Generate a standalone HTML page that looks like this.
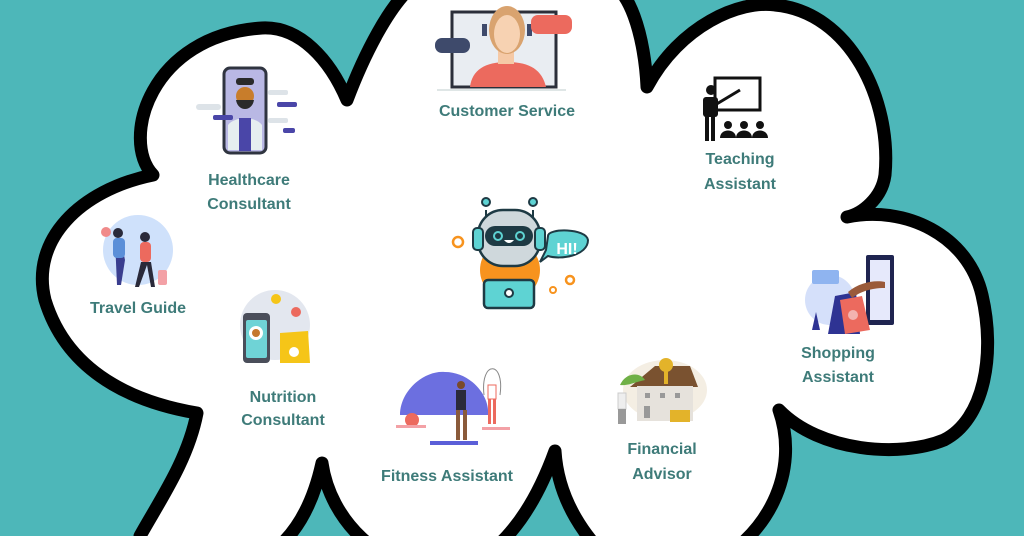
<!DOCTYPE html>
<html><head><meta charset="utf-8"><style>
html,body{margin:0;padding:0;width:1024px;height:536px;overflow:hidden;}
body{background:#4db7b9;}
svg{display:block}
text{font-family:"Liberation Sans",sans-serif;font-weight:bold;fill:#3e7b79;font-size:16px;text-anchor:middle;letter-spacing:0px}
</style></head><body>
<svg width="1024" height="536" viewBox="0 0 1024 536" style="overflow:hidden">
<rect width="1024" height="536" fill="#4db7b9"/>
<path d="M153,175 C120,140 150,35 262,28 C300,26 330,60 347,100 C362,60 390,0 420,-20 L600,-20 C630,-20 645,40 647,87 C680,25 740,0 775,5 C850,12 892,100 885,175 C882,198 862,214 847,217 C905,205 968,235 982,295 C996,355 984,420 944,440 C900,458 820,452 779,410 C800,470 770,540 700,570 L620,570 C585,540 558,500 555,451 C530,520 490,570 440,570 C380,570 330,520 322,463 C305,540 260,580 190,570 C160,560 140,545 140,536 C160,500 188,460 197,413 C150,405 70,382 45,300 C30,240 80,190 153,175 Z" fill="#fff" stroke="#000" stroke-width="13" stroke-linejoin="round"/>

<!-- Customer service -->
<g>
<rect x="452" y="12" width="104" height="75" fill="#e9edf2" stroke="#2b2f3a" stroke-width="3"/>
<path d="M470,87 C472,70 485,62 507,62 C530,62 542,70 546,87 Z" fill="#ec6a5e"/>
<rect x="498" y="50" width="16" height="14" fill="#f5c9a6"/>
<ellipse cx="507" cy="30" rx="18" ry="24" fill="#d9a36f"/>
<ellipse cx="507" cy="34" rx="13" ry="19" fill="#f7d2b2"/>
<rect x="482" y="24" width="5" height="12" fill="#3e4a6b"/><rect x="527" y="24" width="5" height="12" fill="#3e4a6b"/>
<rect x="435" y="38" width="35" height="15" rx="7" fill="#3e4a6b"/>
<rect x="531" y="15" width="41" height="19" rx="7" fill="#ec6a5e"/>
<line x1="437" y1="90" x2="566" y2="90" stroke="#dfe6e6" stroke-width="2"/>
</g>
<text x="507" y="116">Customer Service</text>

<!-- Healthcare -->
<g>
<rect x="224" y="68" width="42" height="85" rx="6" fill="#b9b8e4" stroke="#2f3440" stroke-width="3"/>
<path d="M228,150 L228,125 C235,116 255,116 262,125 L262,150 Z" fill="#e6eef0"/>
<rect x="239" y="118" width="12" height="33" fill="#4a46a8"/>
<circle cx="245" cy="96" r="9" fill="#c87d2b"/>
<path d="M236,100 C238,112 252,112 254,100 Z" fill="#2a2a2a"/>
<rect x="236" y="78" width="18" height="7" rx="3" fill="#2a2a2a"/>
<rect x="196" y="104" width="25" height="6" rx="3" fill="#dde3e8"/>
<rect x="213" y="115" width="20" height="5" rx="2" fill="#4a46a8"/>
<rect x="268" y="90" width="20" height="5" rx="2" fill="#dde3e8"/>
<rect x="277" y="102" width="20" height="5" rx="2" fill="#4a46a8"/>
<rect x="268" y="118" width="20" height="5" rx="2" fill="#dde3e8"/>
<rect x="283" y="128" width="12" height="5" rx="2" fill="#4a46a8"/>
</g>
<text x="249" y="185">Healthcare</text>
<text x="249" y="209">Consultant</text>

<!-- Teaching -->
<g fill="#111">
<rect x="715" y="78" width="45" height="32" fill="none" stroke="#111" stroke-width="3"/>
<circle cx="711" cy="90" r="5"/>
<rect x="703" y="97" width="15" height="20" rx="3"/>
<rect x="705" y="115" width="4" height="26"/><rect x="711" y="115" width="4" height="26"/>
<line x1="715" y1="105" x2="740" y2="90" stroke="#111" stroke-width="3"/>
<circle cx="728" cy="125" r="4"/><circle cx="744" cy="125" r="4"/><circle cx="760" cy="125" r="4"/>
<path d="M720,138 C720,128 736,128 736,138 Z M736,138 C736,128 752,128 752,138 Z M752,138 C752,128 768,128 768,138 Z"/>
</g>
<text x="740" y="164">Teaching</text>
<text x="740" y="189">Assistant</text>

<!-- Robot -->
<g>
<circle cx="510" cy="270" r="30" fill="#f7931e"/>
<circle cx="458" cy="242" r="5" fill="none" stroke="#f7931e" stroke-width="2.5"/>
<circle cx="570" cy="280" r="4" fill="none" stroke="#f7931e" stroke-width="2.5"/>
<circle cx="553" cy="290" r="3" fill="none" stroke="#f7931e" stroke-width="2"/>
<line x1="486" y1="210" x2="486" y2="220" stroke="#1e3a44" stroke-width="2"/><circle cx="486" cy="202" r="4" fill="#5ed3d3" stroke="#1e3a44" stroke-width="2"/>
<line x1="533" y1="210" x2="533" y2="220" stroke="#1e3a44" stroke-width="2"/><circle cx="533" cy="202" r="4" fill="#5ed3d3" stroke="#1e3a44" stroke-width="2"/>
<rect x="478" y="210" width="62" height="56" rx="25" fill="#cfd8dc" stroke="#1e3a44" stroke-width="2.5"/>
<rect x="473" y="228" width="10" height="22" rx="4" fill="#5ed3d3" stroke="#1e3a44" stroke-width="2"/>
<rect x="535" y="228" width="10" height="22" rx="4" fill="#5ed3d3" stroke="#1e3a44" stroke-width="2"/>
<rect x="485" y="226" width="48" height="20" rx="10" fill="#1e3a44"/>
<circle cx="498" cy="236" r="4" fill="none" stroke="#5ed3d3" stroke-width="2"/><circle cx="520" cy="236" r="4" fill="none" stroke="#5ed3d3" stroke-width="2"/>
<path d="M504,240 Q509,246 514,240 Z" fill="#fff"/>
<path d="M548,236 C548,228 586,228 588,240 C588,256 560,260 548,256 L540,262 L546,250 Z" fill="#5ed3d3" stroke="#1e3a44" stroke-width="2"/>
<text x="567" y="254" style="fill:#fff;font-size:16px">HI!</text>
<rect x="484" y="280" width="50" height="28" rx="4" fill="#5ed3d3" stroke="#1e3a44" stroke-width="2.5"/>
<circle cx="509" cy="293" r="4" fill="#fff" stroke="#1e3a44" stroke-width="2"/>
</g>

<!-- Travel -->
<g>
<circle cx="138" cy="250" r="35" fill="#cfe1fb"/>
<path d="M115,240 l6,0 4,20 -4,25 -4,0 z" fill="#3a3e8f"/>
<rect x="113" y="238" width="12" height="20" rx="4" fill="#5b8fd8"/>
<circle cx="118" cy="233" r="5" fill="#2a2a3a"/>
<rect x="140" y="242" width="11" height="20" rx="4" fill="#ec6a5e"/>
<circle cx="145" cy="237" r="5" fill="#2a2a3a"/>
<path d="M141,262 l-6,25 4,0 8,-22 4,22 4,0 -4,-25z" fill="#2a2a3a"/>
<rect x="158" y="270" width="9" height="15" rx="2" fill="#f3a1a6"/>
<circle cx="106" cy="232" r="5" fill="#f08a8a"/>
</g>
<text x="138" y="313">Travel Guide</text>

<!-- Nutrition -->
<g>
<circle cx="275" cy="325" r="35" fill="#e3e7ef"/>
<rect x="243" y="313" width="27" height="50" rx="4" fill="#4a4e5a"/>
<rect x="246" y="320" width="21" height="38" rx="2" fill="#6fd3d6"/>
<circle cx="256" cy="333" r="7" fill="#fff"/><circle cx="256" cy="333" r="4" fill="#c5772d"/>
<path d="M280,333 l28,-2 2,32 -30,0z" fill="#f5c518"/>
<circle cx="294" cy="352" r="5" fill="#fff"/>
<circle cx="276" cy="299" r="5" fill="#f5c518"/><circle cx="296" cy="312" r="5" fill="#ec6a5e"/>
</g>
<text x="283" y="402">Nutrition</text>
<text x="283" y="425">Consultant</text>

<!-- Fitness -->
<g>
<path d="M400,415 C400,390 425,370 445,372 C470,372 490,395 488,415 Z" fill="#6c6fe0"/>
<circle cx="412" cy="420" r="7" fill="#ec6a5e"/>
<rect x="396" y="425" width="30" height="3" fill="#f3a1a6"/>
<rect x="430" y="441" width="48" height="4" fill="#5b5fd8"/>
<rect x="456" y="390" width="10" height="20" fill="#2a2a3a"/>
<circle cx="461" cy="385" r="4" fill="#7a4a2a"/>
<rect x="456" y="410" width="4" height="30" fill="#8a5a3a"/><rect x="463" y="410" width="4" height="30" fill="#8a5a3a"/>
<rect x="488" y="385" width="8" height="14" fill="#fff" stroke="#ec6a5e"/>
<rect x="488" y="399" width="3" height="25" fill="#ec6a5e"/><rect x="493" y="399" width="3" height="25" fill="#ec6a5e"/>
<path d="M484,395 C480,360 505,360 500,395" fill="none" stroke="#888" stroke-width="1"/>
<rect x="482" y="427" width="28" height="3" fill="#f3a1a6"/>
</g>
<text x="447" y="481">Fitness Assistant</text>

<!-- Financial -->
<g>
<ellipse cx="665" cy="390" rx="42" ry="30" fill="#f4eee3"/>
<path d="M630,387 L655,366 L690,366 L698,387 Z" fill="#7a5230"/>
<rect x="637" y="386" width="56" height="35" fill="#e6e2dc"/>
<rect x="645" y="393" width="5" height="5" fill="#999"/><rect x="660" y="393" width="5" height="5" fill="#999"/><rect x="675" y="393" width="5" height="5" fill="#999"/>
<rect x="644" y="406" width="6" height="12" fill="#999"/>
<rect x="670" y="410" width="20" height="12" fill="#e3b32a"/>
<circle cx="666" cy="365" r="7" fill="#e3b32a"/><rect x="664" y="370" width="4" height="14" fill="#e3b32a"/>
<rect x="618" y="393" width="8" height="16" fill="#eee" stroke="#ccc"/>
<rect x="618" y="409" width="8" height="15" fill="#999"/>
<path d="M620,385 C626,372 640,372 645,380 C635,382 628,386 620,385Z" fill="#6fb046"/>
</g>
<text x="662" y="454">Financial</text>
<text x="662" y="479">Advisor</text>

<!-- Shopping -->
<g>
<circle cx="830" cy="300" r="25" fill="#d5e0fa"/>
<rect x="866" y="255" width="28" height="70" rx="2" fill="#1f2450"/>
<rect x="870" y="260" width="20" height="60" fill="#e6e9fb"/>
<rect x="812" y="270" width="27" height="14" rx="2" fill="#8fb4f0"/>
<path d="M835,296 L856,292 L860,334 L828,334 Z" fill="#2e3393"/>
<path d="M840,300 L862,296 L870,330 L845,334 Z" fill="#ec6a5e"/>
<circle cx="853" cy="315" r="5" fill="#f3b3b0"/>
<path d="M848,292 C860,282 875,280 885,282 L885,288 C870,288 860,292 852,298Z" fill="#9a5a3a"/>
<path d="M812,330 l4,-18 4,18z" fill="#2e3393"/>
</g>
<text x="838" y="358">Shopping</text>
<text x="838" y="382">Assistant</text>
</svg>
</body></html>
